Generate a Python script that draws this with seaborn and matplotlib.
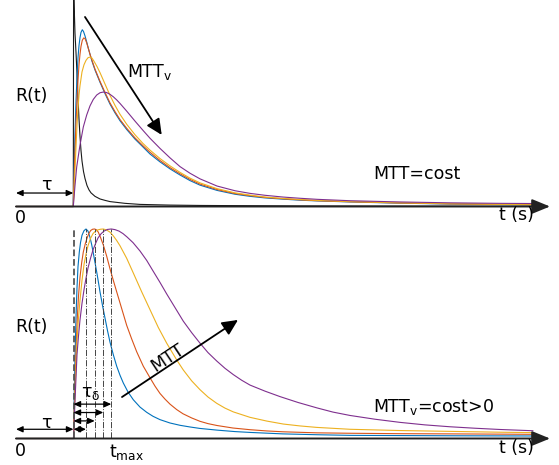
import pandas as pd
import matplotlib
matplotlib.use("Agg")
import matplotlib.pyplot as plt
import seaborn as sns

# Curve samples: (t in s, R(t) normalised)
# top panel: MTT constant, MTT_v growing
top_black = [(0, 0), (5.73, 0), (5.76, 1.3), (5.83, 1.12), (5.9, 0.99), (6.0, 0.88), (6.1, 0.76),
             (6.2, 0.62), (6.3, 0.5), (6.4, 0.4), (6.5, 0.32), (6.6, 0.26), (6.75, 0.2), (6.9, 0.16),
             (7.1, 0.12), (7.3, 0.095), (7.5, 0.078), (7.9, 0.058), (8.4, 0.043), (8.9, 0.035),
             (9.4, 0.028), (10.9, 0.018), (12.4, 0.012), (15.4, 0.008), (18.4, 0.006), (28.4, 0.003),
             (51.7, 0.001)]
top_blue = [(0, 0), (5.73, 0), (5.8, 0.2), (5.9, 0.42), (6.0, 0.6), (6.1, 0.74), (6.2, 0.85),
            (6.3, 0.92), (6.4, 0.965), (6.5, 0.995), (6.63, 1.01), (6.75, 1.0), (6.9, 0.975),
            (7.07, 0.94), (7.25, 0.9), (7.4, 0.87), (7.6, 0.83), (7.9, 0.78), (8.4, 0.71), (8.9, 0.645),
            (9.4, 0.585), (9.9, 0.535), (10.4, 0.49), (11.07, 0.44), (11.9, 0.385), (12.7, 0.34),
            (13.4, 0.30), (14.4, 0.255), (15.4, 0.215), (16.4, 0.18), (17.4, 0.148), (18.4, 0.122),
            (20.1, 0.092), (21.9, 0.07), (23.4, 0.058), (24.9, 0.049), (26.7, 0.042), (28.4, 0.036),
            (30.1, 0.032), (33.4, 0.026), (38.4, 0.019), (43.4, 0.014), (48.4, 0.011), (51.7, 0.009)]
top_red = [(0, 0), (5.73, 0), (5.8, 0.15), (5.9, 0.32), (6.0, 0.48), (6.1, 0.61), (6.2, 0.72),
           (6.3, 0.81), (6.4, 0.87), (6.5, 0.915), (6.63, 0.95), (6.77, 0.963), (6.9, 0.96),
           (7.07, 0.935), (7.25, 0.9), (7.4, 0.87), (7.6, 0.835), (7.9, 0.785), (8.4, 0.715),
           (8.9, 0.652), (9.4, 0.592), (9.9, 0.542), (10.4, 0.497), (11.07, 0.447), (11.9, 0.392),
           (12.7, 0.347), (13.4, 0.31), (14.4, 0.263), (15.4, 0.222), (16.4, 0.187), (17.4, 0.155),
           (18.4, 0.128), (20.1, 0.097), (21.9, 0.074), (23.4, 0.062), (24.9, 0.052), (26.7, 0.044),
           (28.4, 0.038), (30.1, 0.033), (33.4, 0.027), (38.4, 0.02), (43.4, 0.015), (48.4, 0.012),
           (51.7, 0.01)]
top_yellow = [(0, 0), (5.73, 0), (5.8, 0.09), (5.9, 0.21), (6.0, 0.34), (6.1, 0.465), (6.2, 0.56),
              (6.3, 0.637), (6.4, 0.69), (6.6, 0.769), (6.8, 0.81), (7.0, 0.835), (7.2, 0.85),
              (7.4, 0.854), (7.6, 0.848), (7.8, 0.83), (8.1, 0.8), (8.4, 0.765), (8.9, 0.7),
              (9.4, 0.635), (9.9, 0.578), (10.4, 0.527), (11.07, 0.47), (11.9, 0.41), (12.7, 0.36),
              (13.4, 0.322), (14.4, 0.274), (15.4, 0.232), (16.4, 0.195), (17.4, 0.162), (18.4, 0.135),
              (20.1, 0.102), (21.9, 0.078), (23.4, 0.065), (24.9, 0.054), (26.7, 0.046), (28.4, 0.04),
              (30.1, 0.035), (33.4, 0.028), (38.4, 0.021), (43.4, 0.016), (48.4, 0.012), (51.7, 0.01)]
top_purple = [(0, 0), (5.73, 0), (5.8, 0.05), (5.9, 0.12), (6.07, 0.226), (6.25, 0.295), (6.4, 0.351),
              (6.73, 0.454), (7.07, 0.523), (7.4, 0.575), (7.73, 0.612), (8.07, 0.637), (8.4, 0.65),
              (8.73, 0.654), (9.07, 0.651), (9.4, 0.641), (9.73, 0.627), (10.07, 0.609), (10.4, 0.589),
              (11.07, 0.545), (11.9, 0.488), (12.73, 0.433), (13.4, 0.39), (14.4, 0.332), (15.4, 0.278),
              (16.4, 0.228), (17.4, 0.19), (18.4, 0.158), (20.1, 0.117), (21.9, 0.09), (23.4, 0.075),
              (24.9, 0.064), (26.7, 0.054), (28.4, 0.047), (30.1, 0.041), (33.4, 0.033), (38.4, 0.026),
              (43.4, 0.021), (48.4, 0.018), (51.7, 0.017)]

# bottom panel: MTT_v constant, MTT growing
bot_blue = [(0, 0), (5.75, 0), (5.82, 0.2), (5.9, 0.384), (6.0, 0.58), (6.1, 0.72), (6.2, 0.82),
            (6.33, 0.89), (6.45, 0.935), (6.6, 0.97), (6.8, 0.992), (7.0, 1.0), (7.2, 0.99),
            (7.4, 0.96), (7.57, 0.925), (7.73, 0.885), (7.9, 0.84), (8.07, 0.795), (8.23, 0.75),
            (8.4, 0.70), (8.65, 0.635), (8.9, 0.575), (9.15, 0.515), (9.4, 0.46), (9.73, 0.40),
            (10.07, 0.345), (10.4, 0.302), (10.73, 0.265), (11.2, 0.222), (11.73, 0.185), (12.4, 0.15),
            (13.07, 0.125), (13.7, 0.106), (14.4, 0.09), (15.4, 0.074), (16.4, 0.063), (17.4, 0.055),
            (18.4, 0.048), (20.1, 0.04), (21.9, 0.033), (23.4, 0.029), (26.7, 0.022), (30.1, 0.018),
            (33.4, 0.015), (38.4, 0.014), (43.4, 0.013), (51.7, 0.012)]
bot_red = [(0, 0), (5.75, 0), (5.83, 0.15), (5.93, 0.30), (6.03, 0.45), (6.13, 0.575), (6.25, 0.68),
           (6.4, 0.77), (6.57, 0.84), (6.73, 0.89), (6.93, 0.93), (7.13, 0.96), (7.3, 0.98),
           (7.47, 0.993), (7.67, 0.999), (7.87, 1.0), (8.05, 0.996), (8.23, 0.985), (8.45, 0.96),
           (8.73, 0.924), (9.07, 0.87), (9.4, 0.81), (9.73, 0.755), (10.07, 0.70), (10.57, 0.62),
           (11.07, 0.54), (11.57, 0.475), (12.07, 0.414), (12.73, 0.345), (13.4, 0.29), (13.9, 0.25),
           (14.4, 0.215), (14.9, 0.188), (15.4, 0.164), (16.07, 0.138), (16.7, 0.118), (17.57, 0.098),
           (18.4, 0.082), (19.2, 0.071), (20.1, 0.062), (21.7, 0.05), (23.4, 0.042), (25.1, 0.036),
           (26.7, 0.032), (30.1, 0.027), (33.4, 0.025), (38.4, 0.023), (43.4, 0.022), (51.7, 0.02)]
bot_yellow = [(0, 0), (5.75, 0), (5.82, 0.11), (5.9, 0.23), (6.0, 0.355), (6.1, 0.47), (6.25, 0.575),
              (6.4, 0.66), (6.6, 0.755), (6.8, 0.83), (7.0, 0.88), (7.2, 0.92), (7.45, 0.955),
              (7.7, 0.978), (7.95, 0.99), (8.2, 0.996), (8.47, 0.999), (8.73, 1.0), (9.07, 0.995),
              (9.4, 0.985), (9.73, 0.967), (10.07, 0.945), (10.4, 0.92), (11.07, 0.86), (11.73, 0.79),
              (12.57, 0.70), (13.4, 0.615), (14.23, 0.53), (15.07, 0.455), (16.07, 0.375),
              (16.73, 0.327), (17.57, 0.275), (18.4, 0.233), (19.2, 0.198), (20.07, 0.168),
              (20.9, 0.145), (21.73, 0.127), (23.4, 0.101), (25.1, 0.083), (26.73, 0.069), (28.4, 0.06),
              (30.07, 0.053), (33.4, 0.044), (38.4, 0.038), (43.4, 0.034), (48.4, 0.03), (51.7, 0.028)]
bot_purple = [(0, 0), (5.75, 0), (5.82, 0.08), (5.9, 0.18), (6.0, 0.29), (6.1, 0.40), (6.25, 0.49),
              (6.4, 0.566), (6.6, 0.645), (6.8, 0.71), (7.0, 0.765), (7.2, 0.814), (7.45, 0.86),
              (7.7, 0.90), (7.95, 0.93), (8.2, 0.957), (8.5, 0.977), (8.8, 0.99), (9.15, 0.998),
              (9.53, 1.0), (9.9, 0.997), (10.3, 0.99), (10.7, 0.978), (11.1, 0.962), (11.7, 0.935),
              (12.4, 0.895), (13.07, 0.85), (13.7, 0.80), (14.4, 0.745), (15.07, 0.69), (15.9, 0.625),
              (16.73, 0.56), (17.57, 0.505), (18.4, 0.455), (19.2, 0.41), (20.07, 0.37), (20.9, 0.335),
              (21.73, 0.305), (22.57, 0.278), (23.4, 0.255), (24.9, 0.226), (26.4, 0.2), (28.2, 0.172),
              (30.1, 0.146), (31.7, 0.126), (33.4, 0.11), (35.9, 0.092), (38.4, 0.077), (40.9, 0.065),
              (43.4, 0.056), (45.9, 0.049), (48.4, 0.043), (51.7, 0.037)]

tau = 5.75                       # delay
t_max = [7.0, 7.87, 8.73, 9.53]  # peak times, bottom panel
t_end = 53.4                     # end of the time axis arrow

colors = {"black": "#1a1a1a", "blue": "#0072BD", "red": "#D95319",
          "yellow": "#EDB120", "purple": "#7E2F8E"}


def to_frame(curves):
    rows = []
    for name, pts in curves.items():
        for t, r in pts:
            rows.append({"t": t, "R": r, "curve": name})
    return pd.DataFrame(rows)


df_top = to_frame({"black": top_black, "blue": top_blue, "red": top_red,
                   "yellow": top_yellow, "purple": top_purple})
df_bot = to_frame({"blue": bot_blue, "red": bot_red, "yellow": bot_yellow, "purple": bot_purple})

sns.set_theme(style="white")
plt.rcParams["font.family"] = ["DejaVu Sans"]
plt.rcParams["mathtext.fontset"] = "dejavusans"
plt.rcParams["text.color"] = "black"
fs = 12.5

fig = plt.figure(figsize=(5.59, 4.65), dpi=100)
ax_top = fig.add_axes([0, 1 - 215 / 465, 1, 215 / 465])
ax_bot = fig.add_axes([0, 0, 1, 243 / 465])

sns.lineplot(data=df_top, x="t", y="R", hue="curve", palette=colors, estimator=None,
             sort=False, legend=False, linewidth=0.8, ax=ax_top)
sns.lineplot(data=df_bot, x="t", y="R", hue="curve", palette=colors, estimator=None,
             sort=False, legend=False, linewidth=0.8, ax=ax_bot)

ax_top.set_xlim(-1.6, 54.3)
ax_top.set_ylim(-0.0486, 1.18)
ax_bot.set_xlim(-1.6, 54.3)
ax_bot.set_ylim(-0.1265, 1.0334)
for ax in (ax_top, ax_bot):
    ax.axis("off")

axis_arrow = dict(arrowstyle="-|>,head_length=1.1,head_width=0.45", lw=1.4, color="#222222",
                  mutation_scale=10, shrinkA=0, shrinkB=0)
small_arrow = dict(arrowstyle="<|-|>,head_length=0.4,head_width=0.18", lw=0.9, color="black",
                   mutation_scale=10, shrinkA=0, shrinkB=0)
big_arrow = dict(arrowstyle="-|>,head_length=0.95,head_width=0.45", lw=1.3, color="black",
                 mutation_scale=10, shrinkA=0, shrinkB=0)

# ---- top panel
ax_top.annotate("", xy=(t_end, 0), xytext=(0, 0), arrowprops=axis_arrow)
ax_top.annotate("", xy=(5.73, 0.077), xytext=(0, 0.077), arrowprops=small_arrow)
ax_top.text(3.07, 0.123, "τ", fontsize=fs, ha="center", va="center")
ax_top.text(0.4, -0.066, "0", fontsize=fs, ha="center", va="center")
ax_top.text(1.5, 0.631, "R(t)", fontsize=fs, ha="center", va="center")
ax_top.text(50.0, -0.05, "t (s)", fontsize=fs, ha="center", va="center")
ax_top.text(40.1, 0.186, "MTT=cost", fontsize=fs, ha="center", va="center")
ax_top.text(13.4, 0.77, r"MTT$_\mathregular{v}$", fontsize=fs, ha="center", va="center")
ax_top.annotate("", xy=(14.57, 0.409), xytext=(6.9, 1.083), arrowprops=big_arrow)

# ---- bottom panel
ax_bot.vlines(tau, 0, 1.005, colors="#555555", linestyles="--", lw=1.3)
ax_bot.vlines(t_max, 0, 1.0, colors="#444444", linestyles="-.", lw=0.7)
ax_bot.annotate("", xy=(t_end, 0), xytext=(0, 0), arrowprops=axis_arrow)
ax_bot.annotate("", xy=(tau, 0.044), xytext=(0, 0.044), arrowprops=small_arrow)
for i, tm in enumerate(t_max):
    ax_bot.annotate("", xy=(tm, 0.044 + 0.04 * i), xytext=(tau, 0.044 + 0.04 * i),
                    arrowprops=small_arrow)
ax_bot.text(3.07, 0.074, "τ", fontsize=fs, ha="center", va="center")
ax_bot.text(7.45, 0.215, r"τ$_\mathregular{δ}$", fontsize=fs, ha="center", va="center")
ax_bot.text(0.4, -0.06, "0", fontsize=fs, ha="center", va="center")
ax_bot.text(9.3, -0.065, r"t$_\mathregular{max}$", fontsize=fs, ha="left", va="center")
ax_bot.text(1.5, 0.532, "R(t)", fontsize=fs, ha="center", va="center")
ax_bot.text(50.0, -0.047, "t (s)", fontsize=fs, ha="center", va="center")
ax_bot.text(41.8, 0.15, r"MTT$_\mathregular{v}$=cost>0", fontsize=fs, ha="center", va="center")
ax_bot.annotate("", xy=(22.2, 0.566), xytext=(10.6, 0.198), arrowprops=big_arrow)
ax_bot.text(15.2, 0.385, "MTT", fontsize=fs, ha="center", va="center", rotation=33.5)

fig.savefig("out.png", dpi=100)
